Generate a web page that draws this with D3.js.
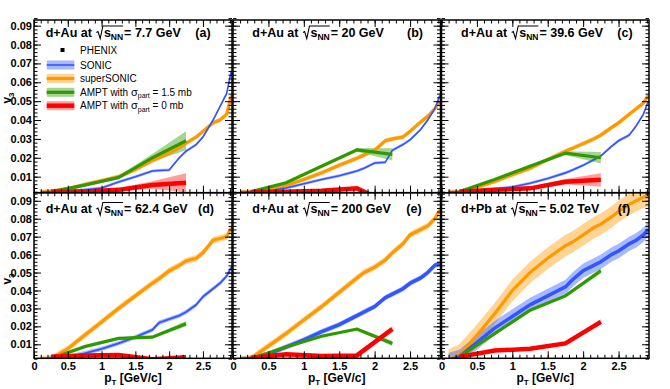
<!DOCTYPE html>
<html>
<head>
<meta charset="utf-8">
<script src="https://cdn.jsdelivr.net/npm/d3@7"></script>
<style>
  body { margin: 0; background: #fff; }
  svg { display: block; font-family: "Liberation Sans", Arial, sans-serif; }
  text { white-space: pre; }
</style>
</head>
<body>
<svg id="chart" width="670" height="389"></svg>
<script>
// pT grids
const ptHydro = [0.1, 0.25, 0.5, 0.75, 1.0, 1.25, 1.5, 1.75, 1.85, 2.0, 2.15, 2.25, 2.4, 2.5, 2.65, 2.75, 2.85, 2.92];
const ptAmpt = [0.25, 0.75, 1.25, 1.75, 2.25];

// panel text
const systems = ["d+Au", "d+Au", "d+Au", "d+Au", "d+Au", "d+Pb"];
const energies = ["7.7 GeV", "20 GeV", "39.6 GeV", "62.4 GeV", "200 GeV", "5.02 TeV"];
const letters = ["(a)", "(b)", "(c)", "(d)", "(e)", "(f)"];
const xTicks = [0, 0.5, 1, 1.5, 2, 2.5];
const yTicks = [0.01, 0.02, 0.03, 0.04, 0.05, 0.06, 0.07, 0.08, 0.09];

// SONIC
const sonicA = [0.0018, 0.002, 0.0025, 0.003, 0.004, 0.0072, 0.010, 0.013, 0.0133, 0.0135, 0.020, 0.0235, 0.027, 0.031, 0.040, 0.047, 0.054, 0.066];
const sonicB = [0.0018, 0.002, 0.0025, 0.004, 0.0062, 0.0085, 0.0105, 0.013, 0.0145, 0.0172, 0.0176, 0.024, 0.027, 0.0295, 0.035, 0.040, 0.046, 0.053];
const sonicC = [0.0018, 0.002, 0.0025, 0.0035, 0.0045, 0.0065, 0.009, 0.012, 0.0135, 0.016, 0.019, 0.021, 0.026, 0.029, 0.032, 0.037, 0.043, 0.050];
const sonicD = [0.0015, 0.002, 0.003, 0.005, 0.0075, 0.0105, 0.014, 0.018, 0.022, 0.024, 0.026, 0.028, 0.032, 0.0365, 0.041, 0.044, 0.048, 0.053];
const sonicE = [0.0015, 0.002, 0.0045, 0.0085, 0.0125, 0.017, 0.021, 0.026, 0.028, 0.031, 0.036, 0.038, 0.041, 0.044, 0.047, 0.050, 0.054, 0.055];
const sonicF = [0.0012, 0.003, 0.011, 0.019, 0.0255, 0.032, 0.037, 0.042, 0.046, 0.051, 0.054, 0.056, 0.060, 0.062, 0.066, 0.068, 0.071, 0.074];
const sonicErr = [0.0008, 0.0008, 0.0008, 0.0012, 0.0015, 0.004];

// superSONIC
const superA = [0.0018, 0.0022, 0.0035, 0.0058, 0.0078, 0.0100, 0.0138, 0.0185, 0.0200, 0.0225, 0.0255, 0.0277, 0.031, 0.034, 0.0385, 0.040, 0.043, 0.053];
const superB = [0.0018, 0.002, 0.003, 0.0055, 0.0085, 0.012, 0.016, 0.0198, 0.0215, 0.024, 0.029, 0.030, 0.031, 0.034, 0.039, 0.042, 0.046, 0.050];
const superC = [0.0018, 0.002, 0.0045, 0.0075, 0.011, 0.0145, 0.019, 0.0235, 0.025, 0.0275, 0.030, 0.032, 0.036, 0.0385, 0.043, 0.046, 0.049, 0.053];
const superD = [0.0018, 0.002, 0.0075, 0.015, 0.0225, 0.030, 0.037, 0.044, 0.0465, 0.051, 0.054, 0.0565, 0.058, 0.061, 0.068, 0.069, 0.070, 0.075];
const superE = [0.0015, 0.002, 0.009, 0.016, 0.0235, 0.031, 0.039, 0.047, 0.050, 0.053, 0.057, 0.061, 0.066, 0.071, 0.074, 0.076, 0.080, 0.085];
const superF = [0.0012, 0.004, 0.015, 0.027, 0.040, 0.050, 0.058, 0.065, 0.067, 0.071, 0.075, 0.077, 0.081, 0.084, 0.088, 0.090, 0.092, 0.093];
const superErr = [0.0012, 0.0012, 0.0012, 0.0018, 0.0018, 0.006];

// AMPT with sigma_part = 1.5 mb
const ampt15A = [0.002, 0.0055, 0.0095, 0.020, 0.029];
const ampt15B = [0.002, 0.0068, 0.0155, 0.0242, 0.0218];
const ampt15C = [0.002, 0.0085, 0.0155, 0.0225, 0.020];
const ampt15D = [0.002, 0.0087, 0.0133, 0.014, 0.0215];
const ampt15E = [0.002, 0.0085, 0.0145, 0.0185, 0.0105];
const ampt15F = [0.003, 0.016, 0.029, 0.037, 0.051];
const ampt15ErrA = [0.0003, 0.0005, 0.001, 0.002, 0.005];
const ampt15ErrB = [0.0003, 0.0005, 0.0008, 0.001, 0.0033];
const ampt15ErrC = [0.0003, 0.0005, 0.0008, 0.001, 0.003];
const ampt15ErrD = [0.0003, 0.0005, 0.0006, 0.0008, 0.0015];
const ampt15ErrE = [0.0003, 0.0005, 0.0006, 0.0008, 0.0015];
const ampt15ErrF = [0.0003, 0.0005, 0.0006, 0.0008, 0.0015];

// AMPT with sigma_part = 0 mb
const ampt0A = [0.002, 0.0022, 0.003, 0.0056, 0.0068];
const ampt0B = [0.0018, 0.002, 0.0025, 0.0038, -0.005];
const ampt0C = [0.002, 0.003, 0.0038, 0.0073, 0.0083];
const ampt0D = [0.0031, 0.0038, 0.004, 0.0017, 0.0028];
const ampt0E = [0.0025, 0.0045, 0.0035, 0.0038, 0.0185];
const ampt0F = [0.003, 0.0065, 0.0075, 0.0105, 0.0225];
const ampt0ErrA = [0.0003, 0.0005, 0.001, 0.002, 0.005];
const ampt0ErrB = [0.0003, 0.0004, 0.0005, 0.0006, 0.001];
const ampt0ErrC = [0.0003, 0.0005, 0.0008, 0.0015, 0.0035];
const ampt0ErrD = [0.0003, 0.0004, 0.0005, 0.0006, 0.001];
const ampt0ErrE = [0.0003, 0.0004, 0.0005, 0.0008, 0.0015];
const ampt0ErrF = [0.0003, 0.0004, 0.0005, 0.0008, 0.0015];

const sonicV = [sonicA, sonicB, sonicC, sonicD, sonicE, sonicF];
const superV = [superA, superB, superC, superD, superE, superF];
const ampt15V = [ampt15A, ampt15B, ampt15C, ampt15D, ampt15E, ampt15F];
const ampt15Errs = [ampt15ErrA, ampt15ErrB, ampt15ErrC, ampt15ErrD, ampt15ErrE, ampt15ErrF];
const ampt0V = [ampt0A, ampt0B, ampt0C, ampt0D, ampt0E, ampt0F];
const ampt0Errs = [ampt0ErrA, ampt0ErrB, ampt0ErrC, ampt0ErrD, ampt0ErrE, ampt0ErrF];

const colors = {
    sonic: { line: "#3355ff", band: "rgba(60,100,255,0.45)" },
    super: { line: "#ff9900", band: "rgba(255,160,20,0.45)" },
    ampt15: { line: "#2f9a00", band: "rgba(60,160,20,0.45)" },
    ampt0: { line: "#ff0000", band: "rgba(255,40,40,0.45)" }
};
const sonicWidth = [1.6, 1.6, 1.6, 1.8, 3.5, 3.5];

// layout
const cols = [[34, 232], [233, 440.5], [441.5, 649]];
const rows = [
    { top: 20, bottom: 192.7, domain: [0.0015, 0.093], titleY: 36.5, letterX: [203, 415, 625] },
    { top: 192.7, bottom: 358.3, domain: [0.0022, 0.0945], titleY: 213, letterX: [206, 414, 624] }
];
const titleX = [45.7, 252.3, 461];

const svg = d3.select("#chart");
const defs = svg.append("defs");

function band(x, y, pts, vals, errs) {
    const data = pts.map((p, i) => ({ p, v: vals[i], e: Array.isArray(errs) ? errs[i] : errs }));
    return d3.area().x(d => x(d.p)).y0(d => y(d.v - d.e)).y1(d => y(d.v + d.e))(data);
}
function curve(x, y, pts, vals) {
    return d3.line().x((d, i) => x(pts[i])).y(d => y(d))(vals);
}

function drawTitle(g, x0, y0, sys, energy) {
    function put(str, x, y, size) {
        const t = g.append("text").attr("x", x).attr("y", y)
            .attr("font-size", size).attr("font-weight", "bold").text(str);
        return t.node().getComputedTextLength();
    }
    let cx = x0;
    cx += put(sys + " at", cx, y0, 12.5);
    cx += 4.5;
    const rx = cx;
    cx += 7.5;
    cx += put("s", cx, y0, 12.5);
    cx += put("NN", cx, y0 + 3, 8.5);
    const overEnd = cx;
    g.append("path")
        .attr("d", `M${rx},${y0 - 4} L${rx + 1.6},${y0 - 5} L${rx + 3.8},${y0 + 2} L${rx + 6.5},${y0 - 10.5} L${overEnd},${y0 - 10.5}`)
        .attr("fill", "none").attr("stroke", "#000").attr("stroke-width", 1.1);
    cx += 1;
    put("= " + energy, cx, y0, 12.5);
}

for (let k = 0; k < 6; k++) {
    const r = rows[Math.floor(k / 3)];
    const c = cols[k % 3];
    const isBottom = k >= 3, isLeft = k % 3 === 0;
    const x = d3.scaleLinear().domain([0, 2.93]).range(c);
    const y = d3.scaleLinear().domain(r.domain).range([r.bottom, r.top]);
    const g = svg.append("g");

    defs.append("clipPath").attr("id", "clip" + k)
        .append("rect").attr("x", c[0]).attr("y", r.top)
        .attr("width", c[1] - c[0]).attr("height", r.bottom - r.top);
    const plot = g.append("g").attr("clip-path", `url(#clip${k})`);

    // bands
    plot.append("path").attr("d", band(x, y, ptHydro, superV[k], superErr[k])).attr("fill", colors.super.band);
    plot.append("path").attr("d", band(x, y, ptHydro, sonicV[k], sonicErr[k])).attr("fill", colors.sonic.band);
    plot.append("path").attr("d", band(x, y, ptAmpt, ampt15V[k], ampt15Errs[k])).attr("fill", colors.ampt15.band);
    plot.append("path").attr("d", band(x, y, ptAmpt, ampt0V[k], ampt0Errs[k])).attr("fill", colors.ampt0.band);
    // lines
    plot.append("path").attr("d", curve(x, y, ptHydro, superV[k])).attr("fill", "none")
        .attr("stroke", colors.super.line).attr("stroke-width", 3.2);
    plot.append("path").attr("d", curve(x, y, ptHydro, sonicV[k])).attr("fill", "none")
        .attr("stroke", colors.sonic.line).attr("stroke-width", sonicWidth[k]);
    plot.append("path").attr("d", curve(x, y, ptAmpt, ampt15V[k])).attr("fill", "none")
        .attr("stroke", colors.ampt15.line).attr("stroke-width", 3.2);
    plot.append("path").attr("d", curve(x, y, ptAmpt, ampt0V[k])).attr("fill", "none")
        .attr("stroke", colors.ampt0.line).attr("stroke-width", 4.5);

    // axes (ticks inward on all four sides)
    const xMinor = d3.range(0, 2.93, 0.1);
    const yMinor = d3.range(0.002, 0.0945, 0.002);
    const fmtY = d3.format(".2f");
    const fmtX = d => d3.format("")(d);

    function styleAxis(sel) {
        sel.select(".domain").remove();
        sel.selectAll("line").attr("stroke", "#000").attr("stroke-width", 1);
        sel.selectAll("text").attr("font-size", 11).attr("font-weight", "bold").attr("fill", "#000")
            .attr("font-family", "Liberation Sans, Arial, sans-serif");
    }
    g.append("g").attr("transform", `translate(0,${r.bottom})`)
        .call(d3.axisBottom(x).tickValues(xTicks).tickSize(-7).tickPadding(3.5)
            .tickFormat(isBottom ? fmtX : () => "")).call(styleAxis);
    g.append("g").attr("transform", `translate(0,${r.bottom})`)
        .call(d3.axisBottom(x).tickValues(xMinor).tickSize(-3.5).tickFormat(() => "")).call(styleAxis);
    g.append("g").attr("transform", `translate(0,${r.top})`)
        .call(d3.axisTop(x).tickValues(xTicks).tickSize(-7).tickFormat(() => "")).call(styleAxis);
    g.append("g").attr("transform", `translate(0,${r.top})`)
        .call(d3.axisTop(x).tickValues(xMinor).tickSize(-3.5).tickFormat(() => "")).call(styleAxis);
    g.append("g").attr("transform", `translate(${c[0]},0)`)
        .call(d3.axisLeft(y).tickValues(yTicks).tickSize(-7).tickPadding(2)
            .tickFormat(isLeft ? fmtY : () => "")).call(styleAxis);
    g.append("g").attr("transform", `translate(${c[0]},0)`)
        .call(d3.axisLeft(y).tickValues(yMinor).tickSize(-3.5).tickFormat(() => "")).call(styleAxis);
    g.append("g").attr("transform", `translate(${c[1]},0)`)
        .call(d3.axisRight(y).tickValues(yTicks).tickSize(-7).tickFormat(() => "")).call(styleAxis);
    g.append("g").attr("transform", `translate(${c[1]},0)`)
        .call(d3.axisRight(y).tickValues(yMinor).tickSize(-3.5).tickFormat(() => "")).call(styleAxis);

    // frame
    g.append("rect").attr("x", c[0]).attr("y", r.top)
        .attr("width", c[1] - c[0]).attr("height", r.bottom - r.top)
        .attr("fill", "none").attr("stroke", "#000").attr("stroke-width", 1.5);

    // title: sys at sqrt(s_NN) = energy
    drawTitle(g, titleX[k % 3], r.titleY, systems[k], energies[k]);
    g.append("text").attr("x", r.letterX[k % 3]).attr("y", r.titleY)
        .attr("text-anchor", "middle").attr("font-size", 12.5).attr("font-weight", "bold")
        .text(letters[k]);

    // x axis title
    if (isBottom) {
        const t = g.append("text").attr("x", (c[0] + c[1]) / 2).attr("y", 381.5)
            .attr("text-anchor", "middle").attr("font-size", 12).attr("font-weight", "bold");
        t.append("tspan").text("p");
        t.append("tspan").attr("font-size", 8).attr("dy", 3).text("T");
        t.append("tspan").attr("dy", -3).text(" [GeV/c]");
    }
    // y axis title
    if (isLeft) {
        const cy = k === 0 ? 98 : 279;
        const t = g.append("text").attr("transform", `translate(11,${cy}) rotate(-90)`)
            .attr("text-anchor", "middle").attr("font-size", 12).attr("font-weight", "bold");
        t.append("tspan").text("v");
        t.append("tspan").attr("font-size", 8).attr("dy", 3).text("3");
    }
}

// legend in panel (a)
const legendItems = [
    { key: "sonic", label: ["SONIC"] },
    { key: "super", label: ["superSONIC"] },
    { key: "ampt15", label: ["AMPT with ", "\u03c3", "part", " = 1.5 mb"] },
    { key: "ampt0", label: ["AMPT with ", "\u03c3", "part", " = 0 mb"] }
];
const legY = [65, 78.5, 92.3, 105.7];
const leg = svg.append("g");
leg.append("rect").attr("x", 60.5).attr("y", 48).attr("width", 4).attr("height", 4).attr("fill", "#000");
leg.append("text").attr("x", 80).attr("y", 53.5).attr("font-size", 10).text("PHENIX");
legendItems.forEach((it, i) => {
    const cy = legY[i];
    leg.append("rect").attr("x", 46.7).attr("y", cy - 4.5).attr("width", 27.6).attr("height", 9)
        .attr("fill", colors[it.key].band);
    leg.append("line").attr("x1", 46.7).attr("x2", 74.3).attr("y1", cy).attr("y2", cy)
        .attr("stroke", colors[it.key].line)
        .attr("stroke-width", it.key === "sonic" ? 1.6 : it.key === "ampt0" ? 4.5 : 3.2);
    const t = leg.append("text").attr("x", 80).attr("y", cy + 3.5).attr("font-size", 10);
    if (it.label.length === 1) {
        t.text(it.label[0]);
    } else {
        t.append("tspan").text(it.label[0]);
        t.append("tspan").attr("font-size", 11).text(it.label[1]);
        t.append("tspan").attr("font-size", 7).attr("dy", 2.5).text(it.label[2]);
        t.append("tspan").attr("dy", -2.5).text(it.label[3]);
    }
});
</script>
</body>
</html>
